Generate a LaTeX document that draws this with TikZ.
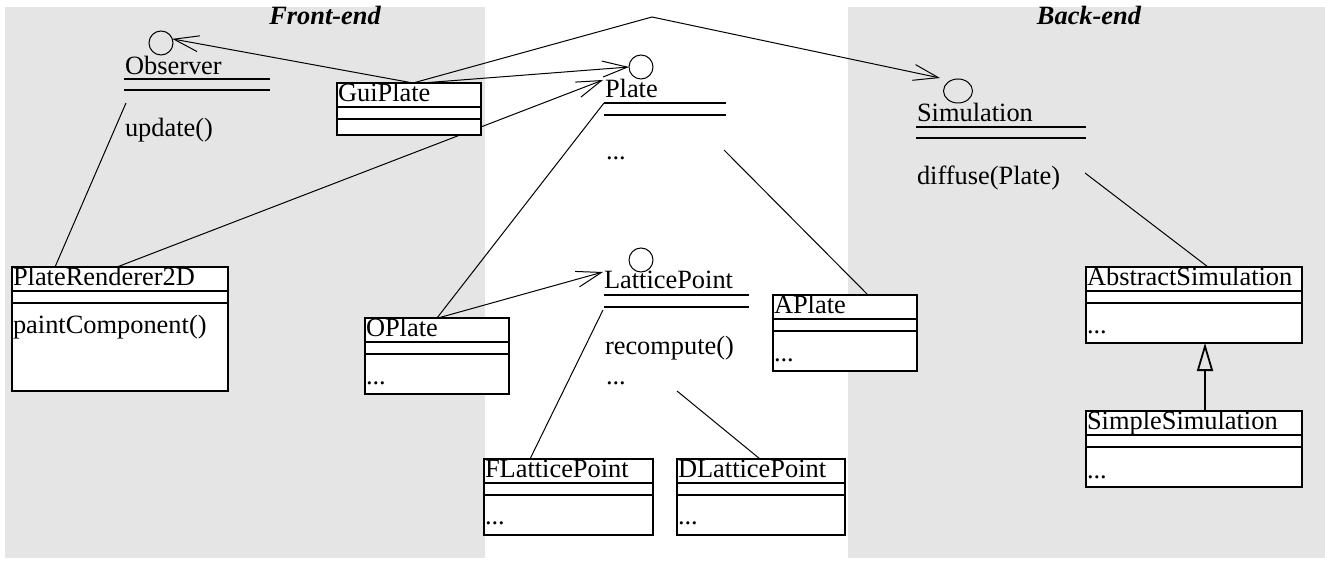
\documentclass[tikz,border=0pt]{standalone}
\usepackage{fontspec}
\setmainfont{Liberation Serif}
\usetikzlibrary{arrows.meta,shapes.geometric}
\definecolor{bggray}{RGB}{229,229,229}
\pgfdeclarelayer{bg}
\pgfdeclarelayer{connlayer}
\pgfsetlayers{bg,connlayer,main}
\tikzset{
  classbox/.style={draw, line width=2pt, fill=white, anchor=north west, inner sep=0pt, outer sep=0pt},
  boxline/.style={line width=2pt},
  ifline/.style={line width=2.2pt},
  lbl/.style={anchor=base west, inner sep=0pt, outer sep=0pt, font=\fontsize{26.4}{30}\selectfont},
  pagetitle/.style={anchor=base, inner sep=0pt, outer sep=0pt, font=\fontsize{26.4}{30}\selectfont\bfseries\itshape},
  iface/.style={draw, line width=1pt, circle, inner sep=0pt, outer sep=0pt, minimum size=24pt},
  ifaceoval/.style={draw, line width=1pt, ellipse, inner sep=0pt, outer sep=0pt, minimum width=29pt, minimum height=24pt},
  connline/.style={line width=1pt},
  realize/.style={line width=1pt, -{Straight Barb[length=25pt,width=16pt]}},
  generalize/.style={line width=1.8pt, -{Triangle[open,length=28pt,width=16pt]}},
}
\newcommand\UMLcls[6]{%
  \node[classbox, minimum width=#4pt, minimum height=#5pt] (#1) at (#2,#3) {};
  \draw[boxline] (#2,#3+24) -- (#2+#4,#3+24);
  \draw[boxline] (#2,#3+36) -- (#2+#4,#3+36);
  \node[lbl] (#1-t) at (#2+1,#3+18.5) {#6};
}
\begin{document}
\begin{tikzpicture}[x=1pt,y=-1pt]
\useasboundingbox (0,0) rectangle (1325,561);
\begin{pgfonlayer}{bg}
  \fill[bggray] (5,7) rectangle (485,558);
  \fill[bggray] (848,7) rectangle (1325,558);
\end{pgfonlayer}

\node[pagetitle] (fe) at (325,25) {Front-end};
\node[pagetitle] (be) at (1089,25) {Back-end};

% interfaces
\node[iface] (obsC) at (161,43) {};
\node[lbl] (obsT) at (125,75) {Observer};
\draw[ifline] (124,79) -- (270,79);
\draw[ifline] (124,90) -- (270,90);
\node[lbl] (obsO) at (125,137) {update()};

\node[iface] (plateC) at (641,67) {};
\node[lbl] (plateT) at (605,98) {Plate};
\draw[ifline] (604,103) -- (726,103);
\draw[ifline] (604,115) -- (726,115);
\node[lbl] (plateO) at (606,160) {...};

\node[ifaceoval] (simC) at (958,91) {};
\node[lbl] (simT) at (917,122) {Simulation};
\draw[ifline] (916,127) -- (1086,127);
\draw[ifline] (916,138) -- (1086,138);
\node[lbl] (simO) at (917,185) {diffuse(Plate)};

\node[iface] (latC) at (641,260) {};
\node[lbl] (latT) at (604,289) {LatticePoint};
\draw[ifline] (604,295) -- (749,295);
\draw[ifline] (604,307) -- (749,307);
\node[lbl] (latO) at (605,354) {recompute()};
\node[lbl] (latO2) at (606,384) {...};

% classes
\UMLcls{gui}{337}{83}{144}{52}{GuiPlate}
\UMLcls{rend}{12}{267}{216}{124}{PlateRenderer2D}
\node[lbl] (rend-o) at (13,333) {paintComponent()};
\UMLcls{oplate}{365}{318}{144}{76}{OPlate}
\node[lbl] (oplate-o) at (366,384) {...};
\UMLcls{aplate}{773}{295}{144}{76}{APlate}
\node[lbl] (aplate-o) at (774,361) {...};
\UMLcls{flat}{484}{459}{169}{76}{FLatticePoint}
\node[lbl] (flat-o) at (485,524) {...};
\UMLcls{dlat}{677}{459}{168}{76}{DLatticePoint}
\node[lbl] (dlat-o) at (678,524) {...};
\UMLcls{abs}{1086}{267}{216}{76}{AbstractSimulation}
\node[lbl] (abs-o) at (1087,333) {...};
\UMLcls{simp}{1086}{411}{216}{76}{SimpleSimulation}
\node[lbl] (simp-o) at (1087,478) {...};

% connectors
\begin{pgfonlayer}{connlayer}
  \coordinate (apex) at (652,17);
  \coordinate (simTip) at (940,78);
  \coordinate (plateTip) at (603,80);
  \coordinate (latTip) at (603,272);
  \coordinate (obsFoot) at (126,103);
  \coordinate (plateFoot) at (604,103);
  \coordinate (plateFoot2) at (724,150);
  \coordinate (latFoot) at (603,310);
  \coordinate (latFoot2) at (677,391);
  \coordinate (simFoot) at (1085,173);

  \draw[realize] ([xshift=76pt]gui.north west) -- (obsC.20);
  \draw[realize] ([xshift=85pt]gui.north west) -- (plateC.west);
  \draw[realize] ([xshift=76pt]gui.north west) -- (apex) -- (simTip);
  \draw[realize] ([xshift=105pt]rend.north west) -- (plateTip);
  \draw[connline] (obsFoot) -- ([xshift=43pt]rend.north west);
  \draw[connline] ([xshift=72pt]oplate.north west) -- (plateFoot);
  \draw[realize] ([xshift=73pt]oplate.north west) -- (latTip);
  \draw[connline] (latFoot) -- ([xshift=46pt]flat.north west);
  \draw[connline] (latFoot2) -- ([xshift=83pt]dlat.north west);
  \draw[connline] (plateFoot2) -- ([xshift=95pt]aplate.north west);
  \draw[connline] (simFoot) -- ([xshift=122pt]abs.north west);
  \draw[generalize] ([xshift=119pt]simp.north west) -- ([xshift=119pt]abs.south west);
\end{pgfonlayer}
\end{tikzpicture}
\end{document}
